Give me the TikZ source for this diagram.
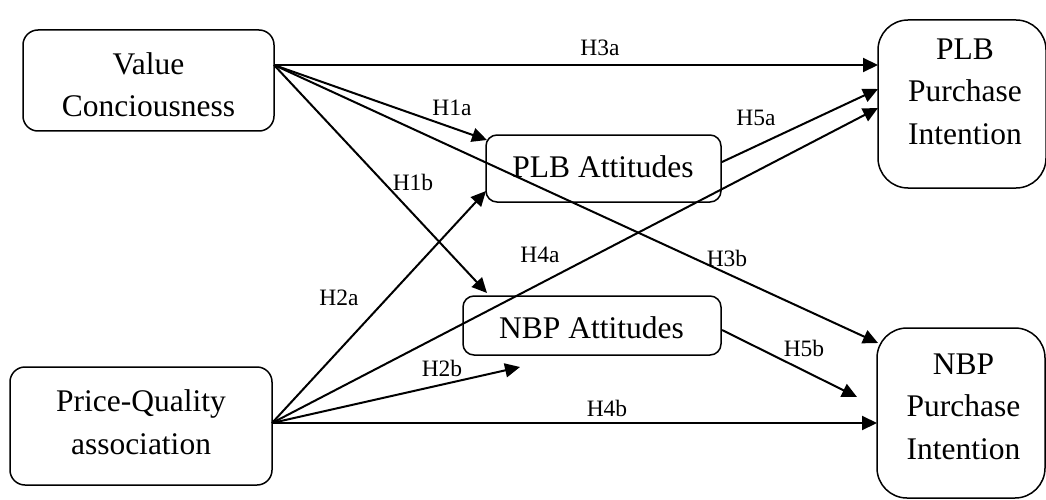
\documentclass[tikz,border=0pt]{standalone}
\usepackage{fontspec}
\setmainfont{Liberation Serif}
\usetikzlibrary{arrows.meta}
\begin{document}
\begin{tikzpicture}[x=1pt,y=-1pt,
  box/.style={draw, line width=1.5pt, inner sep=0pt},
  boxtext/.style={inner sep=0pt, align=center, font=\fontsize{31.5}{42.5}\selectfont},
  hyp/.style={inner sep=0pt, font=\fontsize{23.5}{28}\selectfont},
  arr/.style={line width=2pt, -{Triangle[length=15pt,width=14pt]}}]
\useasboundingbox (0,0) rectangle (1046,500);

% constructs
\node[box, rounded corners=15pt, minimum width=251pt, minimum height=101pt] (vc) at (148.5,80.5) {};
\node[boxtext] (vct) at (148.5,84.5) {Value\\Conciousness};
\node[box, rounded corners=15pt, minimum width=262pt, minimum height=118pt] (pq) at (141,426) {};
\node[boxtext] (pqt) at (141,422) {Price-Quality\\association};
\node[box, rounded corners=11pt, minimum width=235pt, minimum height=67pt] (plbatt) at (603.5,168.5) {};
\node[boxtext] (plbattt) at (603,166.5) {PLB Attitudes};
\node[box, rounded corners=11pt, minimum width=258pt, minimum height=59pt] (nbpatt) at (592,325.5) {};
\node[boxtext] (nbpattt) at (591.5,327.5) {NBP Attitudes};
\node[box, rounded corners=30pt, minimum width=168pt, minimum height=168pt] (plbpi) at (962,104) {};
\node[boxtext] (plbpit) at (965,91.5) {PLB\\Purchase\\Intention};
\node[box, rounded corners=30pt, minimum width=168pt, minimum height=170pt] (nbppi) at (961,413) {};
\node[boxtext] (nbppit) at (963.5,406.5) {NBP\\Purchase\\Intention};

% arrow end points
\coordinate (vcout) at (274,65);
\coordinate (pqout) at (272,423);
\coordinate (plbattout) at (722,162);
\coordinate (nbpattout) at (722,330);
\coordinate (tH3a) at (878,65);
\coordinate (tH1a) at (487,140);
\coordinate (tH3b) at (878,343);
\coordinate (tH1b) at (487,293);
\coordinate (tH2a) at (486,191);
\coordinate (tH4a) at (878,108);
\coordinate (tH5a) at (878,89);
\coordinate (tH2b) at (520,367);
\coordinate (tH4b) at (877,423);
\coordinate (tH5b) at (857,397);

% paths
\draw[arr] (vcout) -- (tH3a);
\draw[arr] (vcout) -- (tH1a);
\draw[arr] (vcout) -- (tH3b);
\draw[arr] (vcout) -- (tH1b);
\draw[arr] (pqout) -- (tH2a);
\draw[arr] (pqout) -- (tH4a);
\draw[arr] (pqout) -- (tH2b);
\draw[arr] (pqout) -- (tH4b);
\draw[arr] (plbattout) -- (tH5a);
\draw[arr] (nbpattout) -- (tH5b);

% hypothesis labels
\node[hyp] (lH3a) at (600,48) {H3a};
\node[hyp] (lH1a) at (452,108) {H1a};
\node[hyp] (lH1b) at (413,182) {H1b};
\node[hyp] (lH5a) at (756,118) {H5a};
\node[hyp] (lH4a) at (540,255) {H4a};
\node[hyp] (lH3b) at (727,258) {H3b};
\node[hyp] (lH2a) at (339,298) {H2a};
\node[hyp] (lH2b) at (442,368) {H2b};
\node[hyp] (lH4b) at (607,408) {H4b};
\node[hyp] (lH5b) at (804,348) {H5b};
\end{tikzpicture}
\end{document}
